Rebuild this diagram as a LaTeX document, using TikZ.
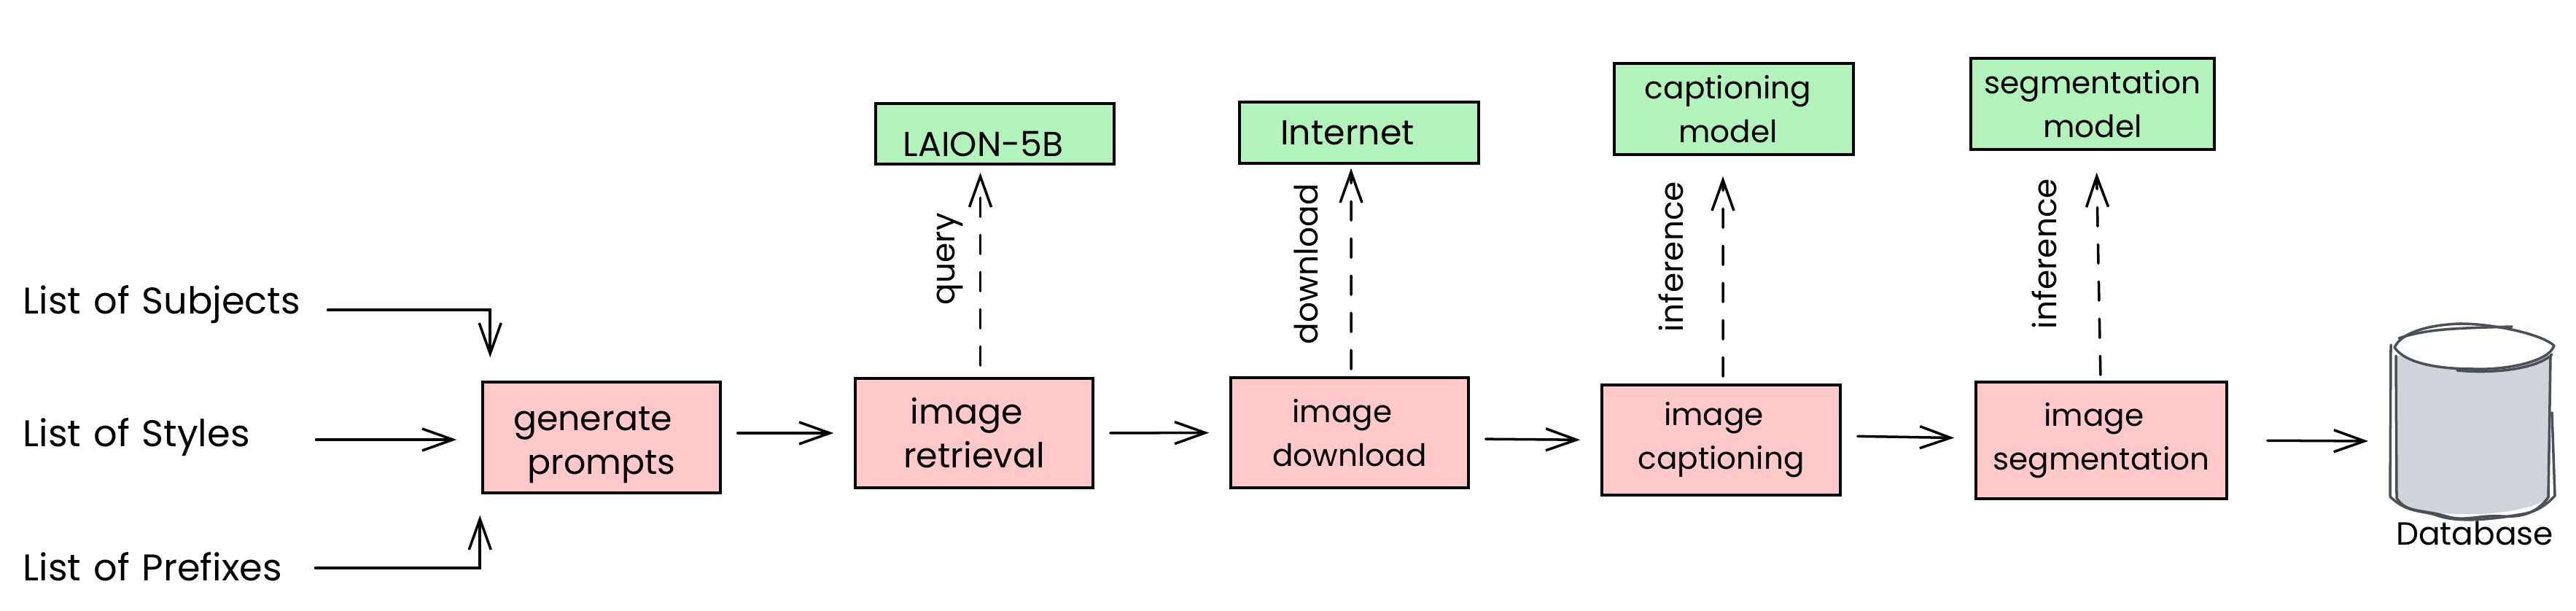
\documentclass[tikz,border=0pt]{standalone}
\usepackage{fontspec}
\setmainfont{Poppins}
\usetikzlibrary{arrows.meta}
\definecolor{procpink}{HTML}{FFC9C9}
\definecolor{envgreen}{HTML}{B2F2BB}
\definecolor{dbgray}{HTML}{CED4DA}
\definecolor{dbline}{HTML}{495057}
\tikzset{every picture/.style={line width=1pt}}
\tikzset{every node/.style={font=\fontsize{12pt}{17pt}\selectfont, inner sep=0pt}}
\tikzset{bigtext/.style={font=\fontsize{13.5pt}{17pt}\selectfont}}
\tikzset{midtext/.style={font=\fontsize{12.5pt}{17pt}\selectfont}}
\tikzset{procbox/.style={draw, fill=procpink, align=center}}
\tikzset{envbox/.style={draw, fill=envgreen, align=center}}
\tikzset{listlab/.style={anchor=west, text width=3.91cm, align=left, font=\fontsize{14.5pt}{17pt}\selectfont}}
\tikzset{rotlab/.style={rotate=90, midtext}}
\tikzset{conn/.style={-{Straight Barb[length=.42cm,width=.3cm]}, line cap=round}}
\tikzset{dashconn/.style={conn, dash pattern=on .26cm off .25cm}}
\tikzset{dbstroke/.style={draw=dbline, line cap=round, line join=round}}

\begin{document}
\begin{tikzpicture}
\useasboundingbox (0,0) rectangle (35.33,8.38);

\node[listlab] (subj) at (0.30,4.20) {List of Subjects};
\node[listlab] (style) at (0.30,2.38) {List of Styles};
\node[listlab] (prefix) at (0.30,0.61) {List of Prefixes};

\node[procbox, bigtext, minimum width=3.26cm, minimum height=1.52cm] (gen) at (8.25,2.38) {\rule{0pt}{15pt}generate\hspace*{.24cm}\\prompts};
\node[procbox, bigtext, minimum width=3.26cm, minimum height=1.50cm] (retr) at (13.36,2.44) {image\hspace*{.2cm}\\retrieval};
\node[procbox, minimum width=3.26cm, minimum height=1.51cm] (down) at (18.51,2.445) {image\hspace*{.2cm}\\download};
\node[procbox, minimum width=3.27cm, minimum height=1.51cm] (cap) at (23.605,2.345) {image\hspace*{.2cm}\\captioning};
\node[procbox, minimum width=3.44cm, minimum height=1.60cm] (seg) at (28.82,2.34) {image\hspace*{.2cm}\\segmentation};

\node[envbox, bigtext, minimum width=3.27cm, minimum height=.83cm] (laion) at (13.645,6.545) {\rule{0pt}{18pt}LAION-5B\hspace*{.32cm}};
\node[envbox, bigtext, minimum width=3.28cm, minimum height=.84cm] (inet) at (18.64,6.56) {Internet\hspace*{.32cm}};
\node[envbox, minimum width=3.28cm, minimum height=1.25cm] (capm) at (23.78,6.885) {captioning\hspace*{.16cm}\\model\hspace*{.16cm}};
\node[envbox, minimum width=3.34cm, minimum height=1.25cm] (segm) at (28.70,6.955) {segmentation\\model};

\node[rotlab] (qlab) at (13.03,4.83) {query};
\node[rotlab] (dlab) at (17.91,4.76) {download};
\node[rotlab] (ilab) at (22.92,4.86) {inference};
\node[rotlab] (jlab) at (28.04,4.90) {inference};

\draw[conn, shorten <=.25cm, shorten >=.32cm] ([yshift=-.07cm]subj.east) -| ([xshift=.12cm]gen.north west);
\draw[conn, shorten <=.09cm, shorten >=.34cm] ([yshift=-.03cm]style.east) -- ([yshift=-.03cm]gen.west);
\draw[conn, shorten <=.08cm, shorten >=.29cm] ([yshift=-.02cm]prefix.east) -| ([xshift=-.02cm]gen.south west);

\foreach \a/\b/\ya/\yb in {gen/retr/.06/0, retr/down/0/0, down/cap/-.085/0, cap/seg/.055/.03} {
\draw[conn, shorten <=.22cm, shorten >=.28cm] ([yshift=\ya cm]\a.east) -- ([yshift=\yb cm]\b.west);
}

\foreach \a/\b/\xa/\xb/\sa/\sb in {retr/laion/.085/-.20/.16/.10, down/inet/.02/-.11/.10/.05, cap/capm/.025/-.15/.10/.28, seg/segm/-.01/.05/.08/.30} {
\draw[dashconn, shorten <=\sa cm, shorten >=\sb cm] ([xshift=\xa cm]\a.north) -- ([xshift=\xb cm]\b.south);
}

\coordinate (dbin) at (32.48,2.33);
\draw[conn, shorten <=.54cm] (seg.east) -- (dbin);

\fill[dbgray] (32.86,3.50) -- (32.87,1.50) .. controls (33.2,1.26) and (34.6,1.26) .. (34.96,1.56) -- (34.98,3.50) -- cycle;
\draw[dbstroke] (32.79,3.65) -- (32.78,1.57) .. controls (33.0,1.35) and (33.2,1.38) .. (33.4,1.32) .. controls (33.7,1.20) and (34.2,1.26) .. (34.6,1.33) .. controls (34.8,1.36) and (34.95,1.48) .. (35.04,1.58) -- (35.00,2.72);
\draw[dbstroke] (32.86,3.50) -- (32.87,1.55) .. controls (33.0,1.34) and (33.2,1.40) .. (33.55,1.30) .. controls (33.8,1.22) and (34.0,1.32) .. (34.3,1.30) .. controls (34.6,1.28) and (34.8,1.35) .. (34.95,1.56) -- (34.98,3.50);
\draw[dbstroke, fill=white] (32.84,3.615) .. controls (32.95,3.85) and (33.4,3.93) .. (33.74,3.94) .. controls (34.2,3.94) and (34.85,3.80) .. (35.03,3.64) .. controls (34.95,3.40) and (34.3,3.30) .. (33.91,3.32) .. controls (33.5,3.32) and (33.0,3.38) .. (32.84,3.615) -- cycle;
\draw[dbstroke] (32.90,3.74) .. controls (33.3,3.88) and (33.8,3.88) .. (34.45,3.90);
\draw[dbstroke] (33.70,3.30) .. controls (34.2,3.25) and (34.8,3.32) .. (35.00,3.52);

\node[midtext] (dblab) at (33.94,1.07) {Database};
\end{tikzpicture}
\end{document}
